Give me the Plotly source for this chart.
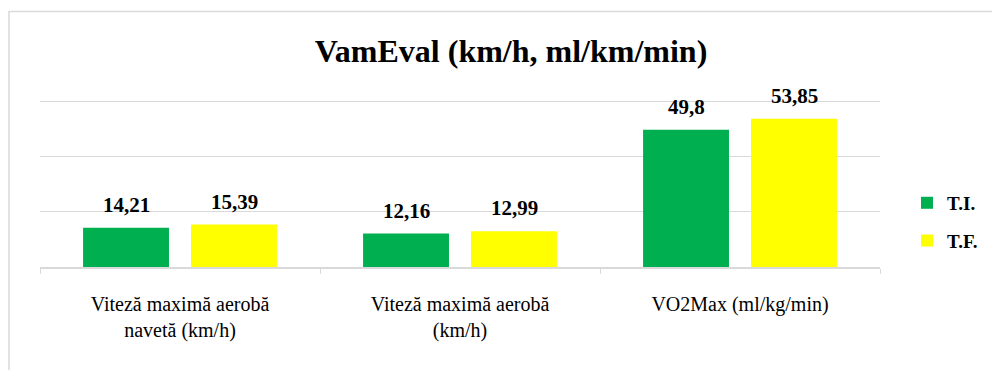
import plotly.graph_objects as go

# Test categories and the two measurement series
categories = [
    "Viteză maximă aerobă<br>navetă (km/h)",
    "Viteză maximă aerobă<br>(km/h)",
    "VO2Max (ml/kg/min)",
]
series_names = ["T.I.", "T.F."]
ti_values = [14.21, 12.16, 49.8]
tf_values = [15.39, 12.99, 53.85]
colors = ["#00B050", "#FFFF00"]

SERIF = "Liberation Serif"

fig = go.Figure()
for i, (name, vals) in enumerate(zip(series_names, [ti_values, tf_values])):
    fig.add_trace(go.Bar(
        x=categories, y=vals, name=f"<b>{name}</b>",
        marker=dict(color=colors[i], line=dict(width=0)),
        legendgroup=name,
    ))

# Value labels above each bar, shifted to the bar's slot within its group
shifts = [-54, 54]
for i, vals in enumerate([ti_values, tf_values]):
    for c, v in zip(categories, vals):
        fig.add_annotation(
            x=c, y=v, xref="x", yref="y",
            text=f"<b>{str(v).replace('.', ',')}</b>",
            showarrow=False, yanchor="bottom", yshift=9, xshift=shifts[i],
            font=dict(family=SERIF, size=21, color="#000000"),
        )

# Plot area: value 60 sits at y=102, value 0 at y=267
L, R, B = 40, 112, 103
YMAX = 61
H = 165 * YMAX / 60
T = 370 - B - H
W = 992 - L - R

# Chart area frame
fig.add_shape(
    type="rect", xref="paper", yref="paper",
    x0=(9 - L) / W, x1=(1100 - L) / W,
    y0=(370 - B - 500) / H, y1=(370 - B - 12) / H,
    line=dict(color="#D9D9D9", width=1.5), fillcolor="rgba(0,0,0,0)",
    layer="below",
)

fig.update_layout(
    width=992, height=370,
    margin=dict(l=L, r=R, t=T, b=B, autoexpand=False),
    paper_bgcolor="#FFFFFF", plot_bgcolor="#FFFFFF",
    barmode="group", bargap=0.229, bargroupgap=0.204,
    title=dict(
        text="<b>VamEval (km/h, ml/km/min)</b>",
        x=511 / 992, xanchor="center", y=1 - 51 / 370, yanchor="middle",
        font=dict(family=SERIF, size=32, color="#000000"),
    ),
    legend=dict(
        x=(907 - L) / W, xanchor="left", y=(267 - 222) / H, yanchor="middle",
        font=dict(family=SERIF, size=19, color="#000000"),
        traceorder="grouped", tracegroupgap=10,
        itemwidth=30, bgcolor="rgba(0,0,0,0)",
    ),
    showlegend=True,
    xaxis=dict(
        tickson="boundaries", ticks="outside", ticklen=5, tickcolor="#D9D9D9",
        showline=True, linecolor="#D9D9D9", linewidth=1.5,
        tickfont=dict(family=SERIF, size=20, color="#000000"),
        ticklabelstandoff=18,
    ),
    yaxis=dict(
        range=[0, YMAX], dtick=20, showticklabels=False,
        showgrid=True, gridcolor="#D9D9D9", gridwidth=1,
        zeroline=False, showline=False,
    ),
)

fig.write_html("out.html")
